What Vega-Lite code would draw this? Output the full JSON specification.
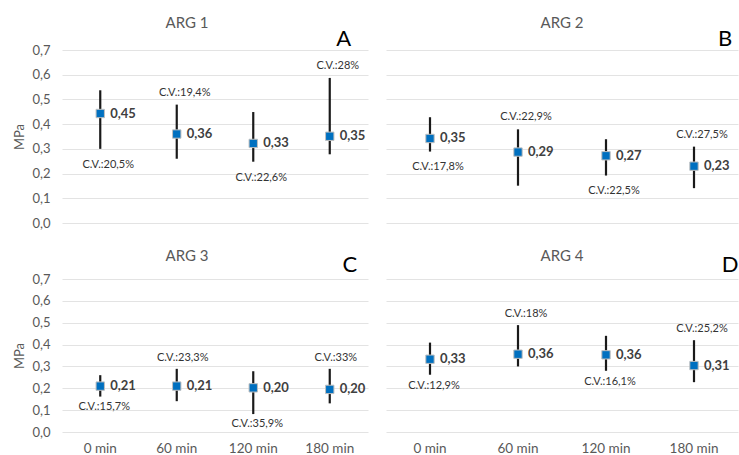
{
  "$schema": "https://vega.github.io/schema/vega-lite/v6.json",
  "background": "white",
  "padding": {"left": 13, "top": 16, "right": 0, "bottom": 0},
  "data": {"values": [
    {"panel": "ARG 1", "time": "0 min", "mean": 0.443, "label": "0,45", "lo": 0.300, "hi": 0.537, "cv": "C.V.:20,5%", "cvpos": "below"},
    {"panel": "ARG 1", "time": "60 min", "mean": 0.360, "label": "0,36", "lo": 0.260, "hi": 0.479, "cv": "C.V.:19,4%", "cvpos": "above"},
    {"panel": "ARG 1", "time": "120 min", "mean": 0.322, "label": "0,33", "lo": 0.248, "hi": 0.449, "cv": "C.V.:22,6%", "cvpos": "below"},
    {"panel": "ARG 1", "time": "180 min", "mean": 0.351, "label": "0,35", "lo": 0.278, "hi": 0.587, "cv": "C.V.:28%", "cvpos": "above"},
    {"panel": "ARG 2", "time": "0 min", "mean": 0.342, "label": "0,35", "lo": 0.289, "hi": 0.428, "cv": "C.V.:17,8%", "cvpos": "below"},
    {"panel": "ARG 2", "time": "60 min", "mean": 0.287, "label": "0,29", "lo": 0.151, "hi": 0.379, "cv": "C.V.:22,9%", "cvpos": "above"},
    {"panel": "ARG 2", "time": "120 min", "mean": 0.272, "label": "0,27", "lo": 0.192, "hi": 0.339, "cv": "C.V.:22,5%", "cvpos": "below"},
    {"panel": "ARG 2", "time": "180 min", "mean": 0.230, "label": "0,23", "lo": 0.141, "hi": 0.309, "cv": "C.V.:27,5%", "cvpos": "above"},
    {"panel": "ARG 3", "time": "0 min", "mean": 0.210, "label": "0,21", "lo": 0.162, "hi": 0.260, "cv": "C.V.:15,7%", "cvpos": "below"},
    {"panel": "ARG 3", "time": "60 min", "mean": 0.210, "label": "0,21", "lo": 0.141, "hi": 0.289, "cv": "C.V.:23,3%", "cvpos": "above"},
    {"panel": "ARG 3", "time": "120 min", "mean": 0.202, "label": "0,20", "lo": 0.082, "hi": 0.278, "cv": "C.V.:35,9%", "cvpos": "below"},
    {"panel": "ARG 3", "time": "180 min", "mean": 0.195, "label": "0,20", "lo": 0.131, "hi": 0.289, "cv": "C.V.:33%", "cvpos": "above"},
    {"panel": "ARG 4", "time": "0 min", "mean": 0.333, "label": "0,33", "lo": 0.262, "hi": 0.409, "cv": "C.V.:12,9%", "cvpos": "below"},
    {"panel": "ARG 4", "time": "60 min", "mean": 0.356, "label": "0,36", "lo": 0.300, "hi": 0.489, "cv": "C.V.:18%", "cvpos": "above"},
    {"panel": "ARG 4", "time": "120 min", "mean": 0.353, "label": "0,36", "lo": 0.280, "hi": 0.440, "cv": "C.V.:16,1%", "cvpos": "below"},
    {"panel": "ARG 4", "time": "180 min", "mean": 0.304, "label": "0,31", "lo": 0.228, "hi": 0.420, "cv": "C.V.:25,2%", "cvpos": "above"}
  ]},
  "config": {
    "font": "Lato",
    "view": {"stroke": null},
    "title": {"fontSize": 15, "fontWeight": "normal", "color": "#595959"},
    "axis": {
      "domain": false, "ticks": false,
      "labelColor": "#595959", "labelFontSize": 13,
      "titleColor": "#595959", "titleFontSize": 13, "titleFontWeight": "normal",
      "gridColor": "#e3e3e3", "gridWidth": 1, "labelOverlap": false
    }
  },
  "spacing": 19,
  "vconcat": [
    {
      "spacing": 18,
      "hconcat": [
        {
          "width": 306, "height": 173,
          "title": {"text": "ARG 1", "dx": -28, "offset": -3},
          "transform": [{"filter": "datum.panel == 'ARG 1'"}],
          "encoding": {"x": {"field": "time", "type": "nominal", "sort": ["0 min", "60 min", "120 min", "180 min"], "scale": {"paddingInner": 0, "paddingOuter": 0}, "axis": null}},
          "layer": [
            {"mark": {"type": "rule", "color": "#1a1a1a", "strokeWidth": 2.2},
             "encoding": {"y": {"field": "lo", "type": "quantitative", "scale": {"domain": [0, 0.7]},
               "axis": {"values": [0, 0.1, 0.2, 0.3, 0.4, 0.5, 0.6, 0.7], "labelExpr": "replace(format(datum.value, '.1f'), '.', ',')", "title": "MPa", "labelPadding": 12, "titlePadding": 5}},
               "y2": {"field": "hi"}}},
            {"mark": {"type": "point", "shape": "square", "filled": true, "size": 70, "fill": "#0070C0", "stroke": "#bfbfbf", "strokeWidth": 1, "opacity": 1},
             "encoding": {"y": {"field": "mean", "type": "quantitative",
               "axis": {"values": [0, 0.1, 0.2, 0.3, 0.4, 0.5, 0.6, 0.7], "labelExpr": "replace(format(datum.value, '.1f'), '.', ',')", "title": "MPa", "labelPadding": 12, "titlePadding": 5}}}},
            {"mark": {"type": "text", "align": "left", "baseline": "middle", "dx": 10, "fontSize": 13, "fontWeight": "bold", "color": "#404040"},
             "encoding": {"y": {"field": "mean", "type": "quantitative",
               "axis": {"values": [0, 0.1, 0.2, 0.3, 0.4, 0.5, 0.6, 0.7], "labelExpr": "replace(format(datum.value, '.1f'), '.', ',')", "title": "MPa", "labelPadding": 12, "titlePadding": 5}}, "text": {"field": "label"}}},
            {"transform": [{"filter": "datum.cvpos == 'above'"}],
             "mark": {"type": "text", "baseline": "middle", "dx": 8, "dy": -12, "fontSize": 11, "color": "#333333"},
             "encoding": {"y": {"field": "hi", "type": "quantitative",
               "axis": {"values": [0, 0.1, 0.2, 0.3, 0.4, 0.5, 0.6, 0.7], "labelExpr": "replace(format(datum.value, '.1f'), '.', ',')", "title": "MPa", "labelPadding": 12, "titlePadding": 5}}, "text": {"field": "cv"}}},
            {"transform": [{"filter": "datum.cvpos == 'below'"}],
             "mark": {"type": "text", "baseline": "middle", "dx": 8, "dy": 16, "fontSize": 11, "color": "#333333"},
             "encoding": {"y": {"field": "lo", "type": "quantitative",
               "axis": {"values": [0, 0.1, 0.2, 0.3, 0.4, 0.5, 0.6, 0.7], "labelExpr": "replace(format(datum.value, '.1f'), '.', ',')", "title": "MPa", "labelPadding": 12, "titlePadding": 5}}, "text": {"field": "cv"}}},
            {"data": {"values": [{"letter": "A"}]},
             "mark": {"type": "text", "fontSize": 22, "color": "#000000", "baseline": "middle", "dx": 14},
             "encoding": {"x": {"datum": "180 min", "type": "nominal"}, "y": {"datum": 0.743, "type": "quantitative",
               "axis": {"values": [0, 0.1, 0.2, 0.3, 0.4, 0.5, 0.6, 0.7], "labelExpr": "replace(format(datum.value, '.1f'), '.', ',')", "title": "MPa", "labelPadding": 12, "titlePadding": 5}}, "text": {"field": "letter"}}}
          ]
        },
        {
          "width": 352, "height": 173,
          "title": {"text": "ARG 2", "offset": -3},
          "transform": [{"filter": "datum.panel == 'ARG 2'"}],
          "encoding": {"x": {"field": "time", "type": "nominal", "sort": ["0 min", "60 min", "120 min", "180 min"], "scale": {"paddingInner": 0, "paddingOuter": 0}, "axis": null}},
          "layer": [
            {"mark": {"type": "rule", "color": "#1a1a1a", "strokeWidth": 2.2},
             "encoding": {"y": {"field": "lo", "type": "quantitative", "scale": {"domain": [0, 0.7]},
               "axis": {"values": [0, 0.1, 0.2, 0.3, 0.4, 0.5, 0.6, 0.7], "labels": false, "title": null}},
               "y2": {"field": "hi"}}},
            {"mark": {"type": "point", "shape": "square", "filled": true, "size": 70, "fill": "#0070C0", "stroke": "#bfbfbf", "strokeWidth": 1, "opacity": 1},
             "encoding": {"y": {"field": "mean", "type": "quantitative", "axis": {"values": [0, 0.1, 0.2, 0.3, 0.4, 0.5, 0.6, 0.7], "labels": false, "title": null}}}},
            {"mark": {"type": "text", "align": "left", "baseline": "middle", "dx": 10, "fontSize": 13, "fontWeight": "bold", "color": "#404040", "clip": true},
             "encoding": {"y": {"field": "mean", "type": "quantitative", "axis": {"values": [0, 0.1, 0.2, 0.3, 0.4, 0.5, 0.6, 0.7], "labels": false, "title": null}}, "text": {"field": "label"}}},
            {"transform": [{"filter": "datum.cvpos == 'above'"}],
             "mark": {"type": "text", "baseline": "middle", "dx": 8, "dy": -12, "fontSize": 11, "color": "#333333", "clip": true},
             "encoding": {"y": {"field": "hi", "type": "quantitative", "axis": {"values": [0, 0.1, 0.2, 0.3, 0.4, 0.5, 0.6, 0.7], "labels": false, "title": null}}, "text": {"field": "cv"}}},
            {"transform": [{"filter": "datum.cvpos == 'below'"}],
             "mark": {"type": "text", "baseline": "middle", "dx": 8, "dy": 15, "fontSize": 11, "color": "#333333", "clip": true},
             "encoding": {"y": {"field": "lo", "type": "quantitative", "axis": {"values": [0, 0.1, 0.2, 0.3, 0.4, 0.5, 0.6, 0.7], "labels": false, "title": null}}, "text": {"field": "cv"}}},
            {"data": {"values": [{"letter": "B"}]},
             "mark": {"type": "text", "fontSize": 22, "color": "#000000", "baseline": "middle", "dx": 31},
             "encoding": {"x": {"datum": "180 min", "type": "nominal"}, "y": {"datum": 0.743, "type": "quantitative", "axis": {"values": [0, 0.1, 0.2, 0.3, 0.4, 0.5, 0.6, 0.7], "labels": false, "title": null}}, "text": {"field": "letter"}}}
          ]
        }
      ]
    },
    {
      "spacing": 18,
      "hconcat": [
        {
          "width": 306, "height": 153,
          "title": {"text": "ARG 3", "dx": -28, "offset": -10},
          "transform": [{"filter": "datum.panel == 'ARG 3'"}],
          "encoding": {"x": {"field": "time", "type": "nominal", "sort": ["0 min", "60 min", "120 min", "180 min"], "scale": {"paddingInner": 0, "paddingOuter": 0}, "axis": {"title": null, "labelAngle": 0, "labelPadding": 9, "grid": false, "labelFontSize": 13.5}}},
          "layer": [
            {"mark": {"type": "rule", "color": "#1a1a1a", "strokeWidth": 2.2},
             "encoding": {"y": {"field": "lo", "type": "quantitative", "scale": {"domain": [0, 0.7]},
               "axis": {"values": [0, 0.1, 0.2, 0.3, 0.4, 0.5, 0.6, 0.7], "labelExpr": "replace(format(datum.value, '.1f'), '.', ',')", "title": "MPa", "labelPadding": 12, "titlePadding": 5}},
               "y2": {"field": "hi"}}},
            {"mark": {"type": "point", "shape": "square", "filled": true, "size": 70, "fill": "#0070C0", "stroke": "#bfbfbf", "strokeWidth": 1, "opacity": 1},
             "encoding": {"y": {"field": "mean", "type": "quantitative",
               "axis": {"values": [0, 0.1, 0.2, 0.3, 0.4, 0.5, 0.6, 0.7], "labelExpr": "replace(format(datum.value, '.1f'), '.', ',')", "title": "MPa", "labelPadding": 12, "titlePadding": 5}}}},
            {"mark": {"type": "text", "align": "left", "baseline": "middle", "dx": 10, "fontSize": 13, "fontWeight": "bold", "color": "#404040"},
             "encoding": {"y": {"field": "mean", "type": "quantitative",
               "axis": {"values": [0, 0.1, 0.2, 0.3, 0.4, 0.5, 0.6, 0.7], "labelExpr": "replace(format(datum.value, '.1f'), '.', ',')", "title": "MPa", "labelPadding": 12, "titlePadding": 5}}, "text": {"field": "label"}}},
            {"transform": [{"filter": "datum.cvpos == 'above'"}],
             "mark": {"type": "text", "baseline": "middle", "dx": 6, "dy": -11, "fontSize": 11, "color": "#333333"},
             "encoding": {"y": {"field": "hi", "type": "quantitative",
               "axis": {"values": [0, 0.1, 0.2, 0.3, 0.4, 0.5, 0.6, 0.7], "labelExpr": "replace(format(datum.value, '.1f'), '.', ',')", "title": "MPa", "labelPadding": 12, "titlePadding": 5}}, "text": {"field": "cv"}}},
            {"transform": [{"filter": "datum.cvpos == 'below'"}],
             "mark": {"type": "text", "baseline": "middle", "dx": 4, "dy": 10, "fontSize": 11, "color": "#333333"},
             "encoding": {"y": {"field": "lo", "type": "quantitative",
               "axis": {"values": [0, 0.1, 0.2, 0.3, 0.4, 0.5, 0.6, 0.7], "labelExpr": "replace(format(datum.value, '.1f'), '.', ',')", "title": "MPa", "labelPadding": 12, "titlePadding": 5}}, "text": {"field": "cv"}}},
            {"data": {"values": [{"letter": "C"}]},
             "mark": {"type": "text", "fontSize": 22, "color": "#000000", "baseline": "middle", "dx": 20},
             "encoding": {"x": {"datum": "180 min", "type": "nominal"}, "y": {"datum": 0.763, "type": "quantitative",
               "axis": {"values": [0, 0.1, 0.2, 0.3, 0.4, 0.5, 0.6, 0.7], "labelExpr": "replace(format(datum.value, '.1f'), '.', ',')", "title": "MPa", "labelPadding": 12, "titlePadding": 5}}, "text": {"field": "letter"}}}
          ]
        },
        {
          "width": 352, "height": 153,
          "title": {"text": "ARG 4", "offset": -10},
          "transform": [{"filter": "datum.panel == 'ARG 4'"}],
          "encoding": {"x": {"field": "time", "type": "nominal", "sort": ["0 min", "60 min", "120 min", "180 min"], "scale": {"paddingInner": 0, "paddingOuter": 0}, "axis": {"title": null, "labelAngle": 0, "labelPadding": 9, "grid": false, "labelFontSize": 13.5}}},
          "layer": [
            {"mark": {"type": "rule", "color": "#1a1a1a", "strokeWidth": 2.2},
             "encoding": {"y": {"field": "lo", "type": "quantitative", "scale": {"domain": [0, 0.7]},
               "axis": {"values": [0, 0.1, 0.2, 0.3, 0.4, 0.5, 0.6, 0.7], "labels": false, "title": null}},
               "y2": {"field": "hi"}}},
            {"mark": {"type": "point", "shape": "square", "filled": true, "size": 70, "fill": "#0070C0", "stroke": "#bfbfbf", "strokeWidth": 1, "opacity": 1},
             "encoding": {"y": {"field": "mean", "type": "quantitative", "axis": {"values": [0, 0.1, 0.2, 0.3, 0.4, 0.5, 0.6, 0.7], "labels": false, "title": null}}}},
            {"mark": {"type": "text", "align": "left", "baseline": "middle", "dx": 10, "fontSize": 13, "fontWeight": "bold", "color": "#404040", "clip": true},
             "encoding": {"y": {"field": "mean", "type": "quantitative", "axis": {"values": [0, 0.1, 0.2, 0.3, 0.4, 0.5, 0.6, 0.7], "labels": false, "title": null}}, "text": {"field": "label"}}},
            {"transform": [{"filter": "datum.cvpos == 'above'"}],
             "mark": {"type": "text", "baseline": "middle", "dx": 8, "dy": -11, "fontSize": 11, "color": "#333333", "clip": true},
             "encoding": {"y": {"field": "hi", "type": "quantitative", "axis": {"values": [0, 0.1, 0.2, 0.3, 0.4, 0.5, 0.6, 0.7], "labels": false, "title": null}}, "text": {"field": "cv"}}},
            {"transform": [{"filter": "datum.cvpos == 'below'"}],
             "mark": {"type": "text", "baseline": "middle", "dx": 4, "dy": 11, "fontSize": 11, "color": "#333333", "clip": true},
             "encoding": {"y": {"field": "lo", "type": "quantitative", "axis": {"values": [0, 0.1, 0.2, 0.3, 0.4, 0.5, 0.6, 0.7], "labels": false, "title": null}}, "text": {"field": "cv"}}},
            {"data": {"values": [{"letter": "D"}]},
             "mark": {"type": "text", "fontSize": 22, "color": "#000000", "baseline": "middle", "dx": 36},
             "encoding": {"x": {"datum": "180 min", "type": "nominal"}, "y": {"datum": 0.763, "type": "quantitative", "axis": {"values": [0, 0.1, 0.2, 0.3, 0.4, 0.5, 0.6, 0.7], "labels": false, "title": null}}, "text": {"field": "letter"}}}
          ]
        }
      ]
    }
  ]
}
